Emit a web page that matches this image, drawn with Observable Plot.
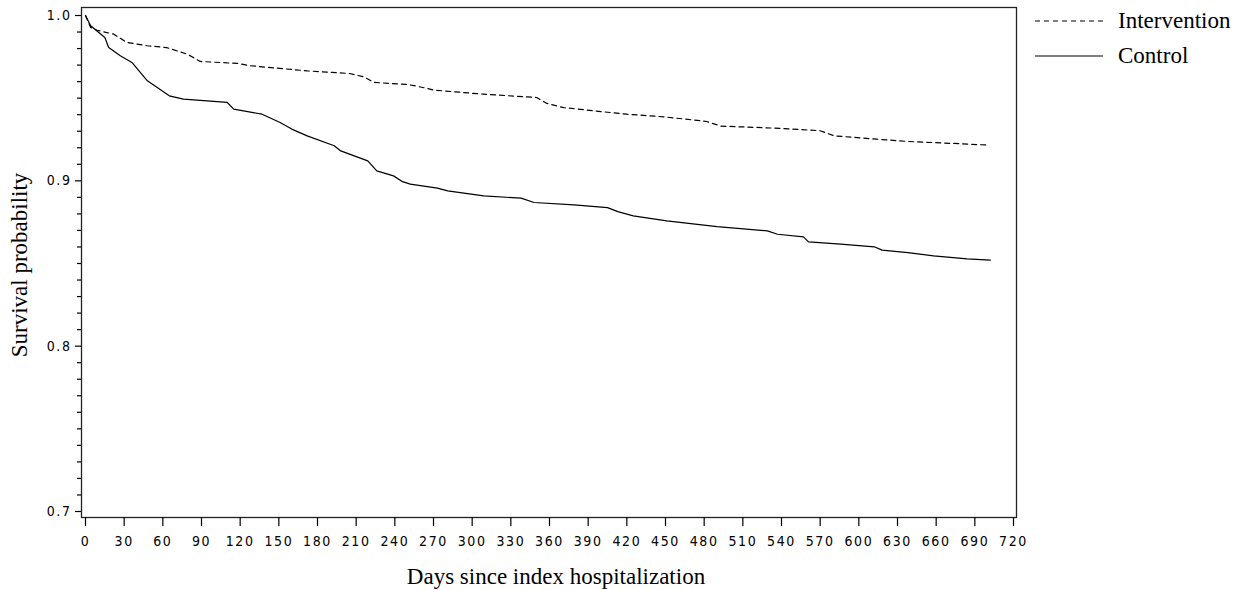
<!DOCTYPE html>
<html>
<head>
<meta charset="utf-8">
<script src="https://cdn.jsdelivr.net/npm/d3@7"></script>
<script src="https://cdn.jsdelivr.net/npm/@observablehq/plot@0.6"></script>
<style>
  html, body { margin: 0; padding: 0; background: #fff; }
  #wrap { position: relative; width: 1239px; height: 590px; }
  #legend { position: absolute; left: 0; top: 0; }
</style>
</head>
<body>
<div id="wrap"></div>
<script>
// Intervention group (dashed)
const intDays = [0, 4, 9, 22, 32, 48, 63, 79, 89, 118, 128, 172, 205, 216, 224, 250, 264, 270, 309, 350, 358, 371, 400, 420, 449, 482, 493, 534, 570, 581, 614, 638, 674, 701];
const intSurv = [1.0, 0.9927, 0.9911, 0.9887, 0.9837, 0.9817, 0.9806, 0.9766, 0.9722, 0.9710, 0.9696, 0.9665, 0.9649, 0.9629, 0.9595, 0.9583, 0.9561, 0.9549, 0.9524, 0.9504, 0.9468, 0.9443, 0.9419, 0.9403, 0.9387, 0.9359, 0.9331, 0.9319, 0.9303, 0.9272, 0.9252, 0.9238, 0.9226, 0.9216];
// Control group (solid)
const ctlDays = [0, 4, 15, 18, 27, 36, 48, 65, 76, 110, 115, 137, 151, 160, 172, 193, 198, 219, 226, 239, 246, 252, 273, 281, 309, 338, 348, 379, 405, 413, 425, 451, 490, 529, 537, 557, 561, 586, 612, 618, 638, 658, 684, 702];
const ctlSurv = [1.0, 0.9938, 0.9867, 0.9806, 0.9756, 0.9716, 0.9605, 0.9514, 0.9494, 0.9474, 0.9434, 0.9403, 0.9353, 0.9313, 0.9272, 0.9212, 0.9181, 0.9121, 0.9060, 0.9030, 0.8995, 0.8980, 0.8956, 0.8939, 0.8909, 0.8895, 0.8869, 0.8855, 0.8838, 0.8814, 0.8788, 0.8758, 0.8723, 0.8697, 0.8677, 0.8661, 0.8631, 0.8617, 0.8601, 0.8581, 0.8566, 0.8546, 0.8528, 0.8520];

const xTicks = d3.range(0, 721, 30);
const yMajor = [0.7, 0.8, 0.9, 1.0];
const yMinor = d3.range(70, 101).map(v => v / 100).filter(v => Math.round(v * 100) % 10 !== 0);
const seriesNames = ["Intervention", "Control"];
const xLabel = "Days since index hospitalization";
const yLabel = "Survival probability";

const intData = intDays.map((d, i) => ({day: d, s: intSurv[i]}));
const ctlData = ctlDays.map((d, i) => ({day: d, s: ctlSurv[i]}));

const tickFont = "'Liberation Sans Narrow', 'DejaVu Sans Condensed', sans-serif";
const serif = "'Liberation Serif', 'Times New Roman', serif";

const chart = Plot.plot({
  width: 1239,
  height: 590,
  marginLeft: 81,
  marginRight: 223,
  marginTop: 7,
  marginBottom: 73,
  x: {domain: [0, 720], insetLeft: 4, insetRight: 3},
  y: {domain: [0.7, 1.0], insetTop: 8, insetBottom: 6},
  style: {background: "#fff", color: "#000"},
  marks: [
    Plot.frame({stroke: "#222", strokeWidth: 1.3}),
    Plot.axisX({ticks: xTicks, tickSize: 9, tickPadding: 10, tickFormat: d => String(d),
      fontSize: 14, fontFamily: tickFont, label: null, strokeWidth: 1.2}),
    Plot.axisY({ticks: yMajor, tickSize: 6, tickPadding: 4, tickFormat: d => d.toFixed(1),
      fontSize: 14, fontFamily: tickFont, label: null, strokeWidth: 1.2}),
    Plot.axisY({ticks: yMinor, tickSize: 4, tickFormat: () => "", label: null, strokeWidth: 1.2}),
    Plot.line(ctlData, {x: "day", y: "s", stroke: "#000", strokeWidth: 1.2}),
    Plot.line(intData, {x: "day", y: "s", stroke: "#000", strokeWidth: 1.2, strokeDasharray: "5,4"})
  ]
});

// letter spacing on tick labels to mimic the spaced bitmap font
chart.querySelectorAll("text").forEach(t => {
  if (/^[0-9.]+$/.test(t.textContent)) t.setAttribute("letter-spacing", "1.6");
});

// axis titles
const ns = "http://www.w3.org/2000/svg";
const xl = document.createElementNS(ns, "text");
xl.setAttribute("x", 556);
xl.setAttribute("y", 584);
xl.setAttribute("text-anchor", "middle");
xl.setAttribute("font-family", serif);
xl.setAttribute("font-size", "23");
xl.textContent = xLabel;
chart.appendChild(xl);

const yl = document.createElementNS(ns, "text");
yl.setAttribute("transform", "translate(27,265) rotate(-90)");
yl.setAttribute("text-anchor", "middle");
yl.setAttribute("font-family", serif);
yl.setAttribute("font-size", "23");
yl.textContent = yLabel;
chart.appendChild(yl);

const wrap = document.getElementById("wrap");
wrap.appendChild(chart);

// legend
const leg = document.createElementNS(ns, "svg");
leg.setAttribute("id", "legend");
leg.setAttribute("width", 1239);
leg.setAttribute("height", 80);
const rows = [{name: seriesNames[0], dash: "5,4", y: 21}, {name: seriesNames[1], dash: null, y: 56}];
rows.forEach(r => {
  const ln = document.createElementNS(ns, "line");
  ln.setAttribute("x1", 1035); ln.setAttribute("x2", 1103);
  ln.setAttribute("y1", r.y); ln.setAttribute("y2", r.y);
  ln.setAttribute("stroke", "#000"); ln.setAttribute("stroke-width", "1.2");
  if (r.dash) ln.setAttribute("stroke-dasharray", r.dash);
  leg.appendChild(ln);
  const tx = document.createElementNS(ns, "text");
  tx.setAttribute("x", 1118); tx.setAttribute("y", r.y + 7);
  tx.setAttribute("font-family", serif);
  tx.setAttribute("font-size", "23");
  tx.textContent = r.name;
  leg.appendChild(tx);
});
wrap.appendChild(leg);
</script>
</body>
</html>
